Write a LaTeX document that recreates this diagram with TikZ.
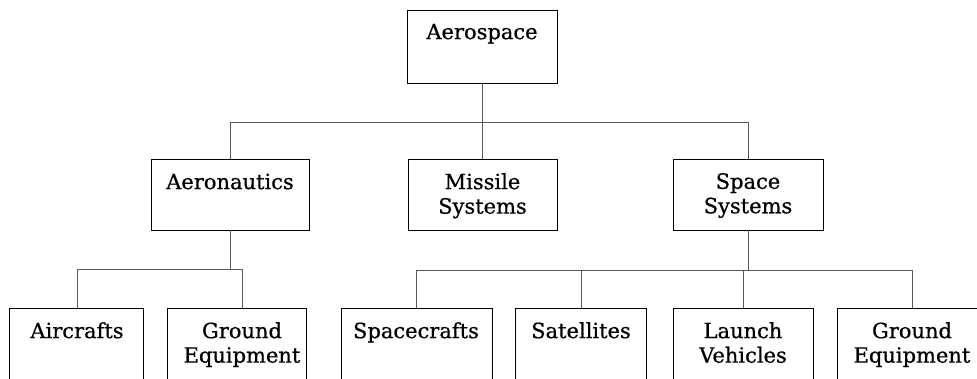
\documentclass[tikz,border=0pt]{standalone}
\usepackage{fontspec}
\setmainfont{DejaVu Serif}[FakeBold=0.6]
\begin{document}
\begin{tikzpicture}[x=1pt,y=1pt,
  box/.style={draw=black, line width=0.95pt, inner sep=0pt},
  lbl/.style={anchor=north, inner sep=0pt, align=center,
    font=\fontsize{21}{24.5}\selectfont, execute at begin node={\vphantom{l}}},
  link/.style={draw=black!65, line width=0.75pt}]
\useasboundingbox (0,0) rectangle (977,379);
\fill[white] (0,0) rectangle (977,379);
\clip (0,0) rectangle (977,379);
% level 0
\node[box, minimum width=150, minimum height=73] (aerospace) at (482,332.5) {};
\node[lbl] (aerospaceT) at (482,356) {Aerospace};
% level 1
\node[box, minimum width=158, minimum height=71] (aeronautics) at (230,184.5) {};
\node[lbl] (aeronauticsT) at (230,206) {Aeronautics};
\node[box, minimum width=149, minimum height=71] (missile) at (482.5,184.5) {};
\node[lbl] (missileT) at (482.5,206) {Missile\\Systems};
\node[box, minimum width=150, minimum height=71] (space) at (748,184.5) {};
\node[lbl] (spaceT) at (748,206) {Space\\Systems};
% level 2
\node[box, minimum width=134, minimum height=101] (aircrafts) at (76,20.5) {};
\node[lbl] (aircraftsT) at (77,57) {Aircrafts};
\node[box, minimum width=139, minimum height=101] (groundA) at (236.5,20.5) {};
\node[lbl] (groundAT) at (242,57) {Ground\\Equipment};
\node[box, minimum width=151, minimum height=101] (spacecrafts) at (416.5,20.5) {};
\node[lbl] (spacecraftsT) at (416,57) {Spacecrafts};
\node[box, minimum width=131, minimum height=101] (satellites) at (580.5,20.5) {};
\node[lbl] (satellitesT) at (581,57) {Satellites};
\node[box, minimum width=140, minimum height=101] (launch) at (743,20.5) {};
\node[lbl] (launchT) at (743,57) {Launch\\Vehicles};
\node[box, minimum width=148, minimum height=101] (groundB) at (911,20.5) {};
\node[lbl] (groundBT) at (912,57) {Ground\\Equipment};
% bars
\coordinate (bar1) at (0,257);
\coordinate (bar2) at (0,110);
\coordinate (bar3) at (0,109);
% connectors
\draw[link] (aerospace.south) -- (aerospace.south |- bar1);
\draw[link] (aeronautics.north) -- (aeronautics.north |- bar1) -- (space.north |- bar1) -- (space.north);
\draw[link] (missile.north |- bar1) -- (missile.north);
\draw[link] (aeronautics.south) -- (aeronautics.south |- bar2);
\draw[link] (aircraftsT |- aircrafts.north) -- (aircraftsT |- bar2) -- (groundAT |- bar2) -- (groundAT |- groundA.north);
\draw[link] (space.south) -- (space.south |- bar3);
\draw[link] (spacecraftsT |- spacecrafts.north) -- (spacecraftsT |- bar3) -- (groundBT |- bar3) -- (groundBT |- groundB.north);
\draw[link] (satellitesT |- bar3) -- (satellitesT |- satellites.north);
\draw[link] (launchT |- bar3) -- (launchT |- launch.north);
\end{tikzpicture}
\end{document}
